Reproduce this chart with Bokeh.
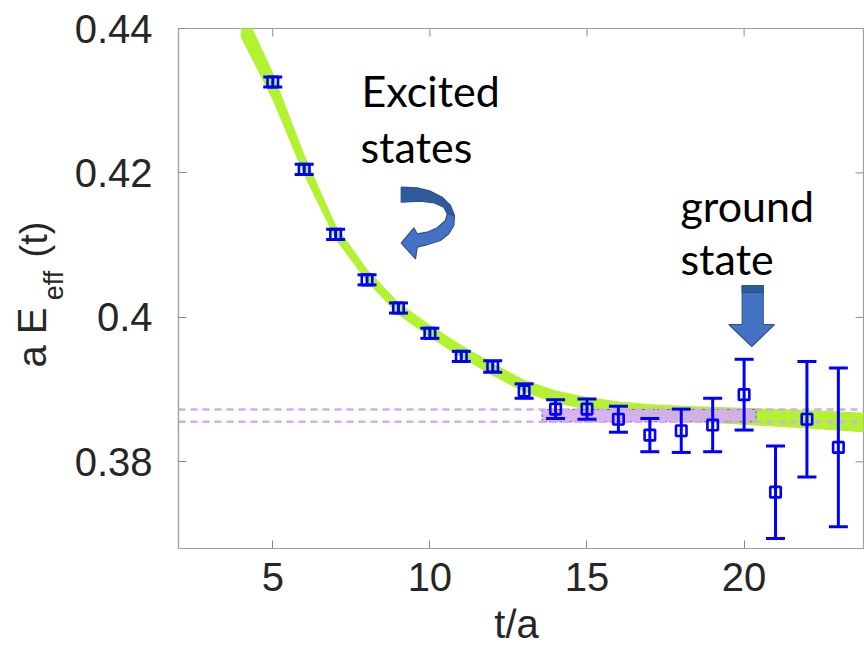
import numpy as np
from bokeh.plotting import figure
from bokeh.layouts import row, column
from bokeh.models import Range1d, FixedTicker, Label, CustomJSTickFormatter
from bokeh.embed import file_html
from bokeh.resources import INLINE

# ---- effective energy per time slice -------------------------------------
t_slices = [5, 6, 7, 8, 9, 10, 11, 12, 13, 14, 15, 16, 17, 18, 19, 20, 21, 22, 23]
e_eff = [0.4326, 0.4205, 0.4115, 0.4052, 0.4013, 0.3978, 0.3946, 0.3932, 0.3898,
         0.3873, 0.3873, 0.3859, 0.3837, 0.3843, 0.3851, 0.3893, 0.3758, 0.3859, 0.3820]
e_err = [0.0007, 0.0007, 0.0007, 0.0007, 0.0007, 0.0007, 0.0007, 0.0008, 0.0010,
         0.0013, 0.0014, 0.0018, 0.0023, 0.0030, 0.0037, 0.0049, 0.0064, 0.0080, 0.0110]

# ---- multi-state fit band (centre and half width) --------------------------
band_t = [4.0, 5, 6, 7, 8, 9, 10, 11, 12, 13, 14, 15, 16, 17, 18, 20, 22, 24]
band_mid = [0.4410, 0.4320, 0.4211, 0.4118, 0.4058, 0.4012, 0.3981, 0.3953, 0.3928,
            0.3905, 0.3890, 0.3881, 0.3874, 0.3870, 0.3867, 0.3863, 0.3859, 0.3854]
band_half = [0.0022, 0.0018, 0.0013, 0.0009, 0.0008, 0.0008, 0.0008, 0.0008, 0.0008,
             0.0008, 0.0008, 0.0008, 0.0009, 0.0009, 0.0010, 0.0011, 0.0012, 0.0013]

# ---- ground-state plateau fit --------------------------------------------
plateau_lo = 0.38555
plateau_hi = 0.38725
plateau_t_start = 13.57
plateau_t_end = 20.38

# ---- axes ----------------------------------------------------------------
x_ticks = [5, 10, 15, 20]
x_tick_labels = ["5", "10", "15", "20"]
y_ticks = [0.38, 0.40, 0.42, 0.44]
y_tick_labels = ["0.38", "0.4", "0.42", "0.44"]

X0, X1 = 2.0, 23.8
Y0, Y1 = 0.368, 0.44

W, H = 864, 648
TITLE_W = 70                      # left strip holding the vertical axis title
XLAB_H = 40                       # bottom strip holding the horizontal axis title
MAIN_W = W - TITLE_W
MAIN_H = H - XLAB_H
FRAME_L = 178                     # frame left edge on the full page
B_L, B_R, B_T = FRAME_L - TITLE_W, 1, 28
FRAME_B = 548                     # frame bottom edge on the full page
B_B = MAIN_H - FRAME_B
TICK_LEN = 8
MID = 0.35                        # baseline-to-middle distance, in em

BLUE = "#0000ff"
GREEN = "#b2f230"
LAVENDER = "#d4aaf5"
AXIS_GREY = "#a0a0a0"
TEXT_DARK = "#262626"
TICK_FONT = "Liberation Sans"

FW = MAIN_W - B_L - B_R
FH = FRAME_B - B_T
DX_PX = (X1 - X0) / FW
DY_PX = (Y1 - Y0) / FH


def xd(px):
    """page pixel x -> data x"""
    return X0 + (px - FRAME_L) * DX_PX


def yd(py):
    """page pixel y -> data y"""
    return Y1 - (py - B_T) * DY_PX


def blank_strip(w, h, xr, yr, left=0, right=0):
    f = figure(width=w, height=h, x_range=xr, y_range=yr,
               output_backend="svg", toolbar_location=None, min_border=0,
               min_border_left=left, min_border_right=right,
               x_axis_location=None, y_axis_location=None)
    f.grid.visible = False
    f.outline_line_color = None
    f.background_fill_color = "white"
    f.border_fill_color = "white"
    return f


p = figure(width=MAIN_W, height=MAIN_H, x_range=Range1d(X0, X1),
           y_range=Range1d(Y0, Y1), output_backend="svg", toolbar_location=None,
           min_border_left=B_L, min_border_right=B_R,
           min_border_top=B_T, min_border_bottom=B_B)
p.grid.visible = False
p.outline_line_color = AXIS_GREY
p.outline_line_width = 1.2
p.background_fill_color = "white"
p.border_fill_color = "white"


def fmt(vals, labels):
    return CustomJSTickFormatter(
        args=dict(tick_vals=vals, tick_text=labels),
        code="const i = tick_vals.findIndex(v => Math.abs(v - tick) < 1e-9);"
             "return i >= 0 ? tick_text[i] : '';")


def style_axis(ax):
    ax.major_tick_in = TICK_LEN
    ax.major_tick_out = 0
    ax.minor_tick_line_color = None
    ax.axis_line_color = AXIS_GREY
    ax.axis_line_width = 1.2
    ax.major_tick_line_color = "#8a8a8a"
    ax.major_tick_line_width = 1
    ax.major_label_text_font = TICK_FONT
    ax.major_label_text_font_size = "40px"
    ax.major_label_text_color = TEXT_DARK


xa = p.xaxis[0]
xa.ticker = FixedTicker(ticks=x_ticks)
xa.formatter = fmt(x_ticks, x_tick_labels)
style_axis(xa)
xa.major_label_standoff = 14

ya = p.yaxis[0]
ya.ticker = FixedTicker(ticks=y_ticks)
ya.formatter = fmt(y_ticks, y_tick_labels)
style_axis(ya)
ya.major_label_standoff = 26

# inward ticks along the top and right edges of the box
p.segment(x0=x_ticks, y0=[Y1] * len(x_ticks), x1=x_ticks,
          y1=[Y1 - TICK_LEN * DY_PX] * len(x_ticks),
          line_color="#8a8a8a", line_width=1)
p.segment(x0=[X1] * len(y_ticks), y0=y_ticks, x1=[X1 - TICK_LEN * DX_PX] * len(y_ticks),
          y1=y_ticks, line_color="#8a8a8a", line_width=1)

# ---- fit band ------------------------------------------------------------
bt = np.array(band_t, dtype=float)
bm = np.array(band_mid)
bh = np.array(band_half)
p.patch(np.concatenate([bt, bt[::-1]]),
        np.concatenate([bm + bh, (bm - bh)[::-1]]),
        fill_color=GREEN, line_color=GREEN, line_width=1)

# ---- plateau box and dashed limits ----------------------------------------
p.quad(left=[plateau_t_start], right=[plateau_t_end],
       bottom=[plateau_lo], top=[plateau_hi],
       fill_color=LAVENDER, fill_alpha=0.9,
       line_color="#6a6a6a", line_width=1, line_dash="3 2")
for level in (plateau_lo, plateau_hi):
    p.line([X0, X1], [level, level], line_color=LAVENDER, line_width=2.5,
           line_dash="7 5")

# ---- data with error bars -------------------------------------------------
tt = np.array(t_slices, dtype=float)
ee = np.array(e_eff)
er = np.array(e_err)
p.segment(x0=tt, y0=ee - er, x1=tt, y1=ee + er, line_color=BLUE, line_width=3)
p.scatter(np.concatenate([tt, tt]), np.concatenate([ee - er, ee + er]),
          marker="dash", size=19, line_color=BLUE, line_width=3)
p.scatter(tt, ee, marker="square", size=10.5, fill_color=None,
          line_color=BLUE, line_width=2.6)

# ---- arrows (outlined in page pixels, mapped to data) ---------------------
ARROW_FILL = "#4472c4"
ARROW_DARK = "#2f5b9c"
ARROW_EDGE = "#2f528f"

curl_upper = [(400.7, 186.7), (416.7, 187.3), (430, 190.7), (441.7, 196.7),
              (450, 205), (454, 215),
              (446.7, 213.3), (443.3, 206.7), (433.3, 202.3), (420, 200.7),
              (400.7, 201.7)]
curl_lower = [(454, 215), (453.3, 225), (448.3, 233.3), (440, 240), (425, 244.7),
              (416.7, 246.7), (415, 258.3), (400.7, 242.7), (413.3, 227.3),
              (416.7, 233.3), (426.7, 231.7), (436.7, 227.3), (445, 220),
              (446.7, 213.3)]
down_arrow = [(741.7, 285), (762.7, 285), (762.7, 324), (774, 324), (751.3, 346),
              (728.3, 324), (741.7, 324)]
down_cap = [(741.7, 285), (762.7, 285), (762.7, 292), (741.7, 292)]

for pts, col in ((curl_lower, ARROW_FILL), (curl_upper, ARROW_DARK),
                 (down_arrow, ARROW_FILL), (down_cap, ARROW_DARK)):
    p.patch([xd(a) for a, _ in pts], [yd(b) for _, b in pts],
            fill_color=col, line_color=ARROW_EDGE, line_width=1.2)

# ---- annotation text (positions given as page baselines) -------------------
NOTE_SIZE = 43
for txt, px, py in (("Excited", 361, 105), ("states", 360, 161),
                    ("ground", 680, 220), ("state", 680, 273)):
    p.add_layout(Label(x=xd(px), y=yd(py - MID * NOTE_SIZE), text=txt,
                       text_font="Lato", text_font_size=f"{NOTE_SIZE}px",
                       text_color="black", text_align="left",
                       text_baseline="middle"))

# ---- vertical axis title with subscript (centre-anchored pieces) ----------
t_fig = blank_strip(TITLE_W, H, Range1d(0, TITLE_W), Range1d(0, H))
for txt, cx, cy, size in (("a E", 31, 337, "40px"), ("eff", 53, 285, "27px"),
                          ("(t)", 33, 239, "38px")):
    t_fig.add_layout(Label(x=cx, y=H - cy, text=txt, text_font=TICK_FONT,
                           text_font_size=size, text_color=TEXT_DARK,
                           angle=np.pi / 2, text_align="center",
                           text_baseline="middle"))

# ---- horizontal axis title (strip shares the main frame's x extent) -------
x_fig = blank_strip(MAIN_W, XLAB_H, Range1d(X0, X1), Range1d(0, XLAB_H),
                    left=B_L, right=B_R)
XLAB_SIZE = 40
x_fig.add_layout(Label(x=xd(516), y=H - (637 - MID * XLAB_SIZE), text="t/a",
                       text_font=TICK_FONT, text_font_size=f"{XLAB_SIZE}px",
                       text_color=TEXT_DARK, text_align="center",
                       text_baseline="middle"))

layout = row(t_fig, column(p, x_fig, spacing=0), spacing=0)
open("out.html", "w").write(file_html(layout, INLINE))
